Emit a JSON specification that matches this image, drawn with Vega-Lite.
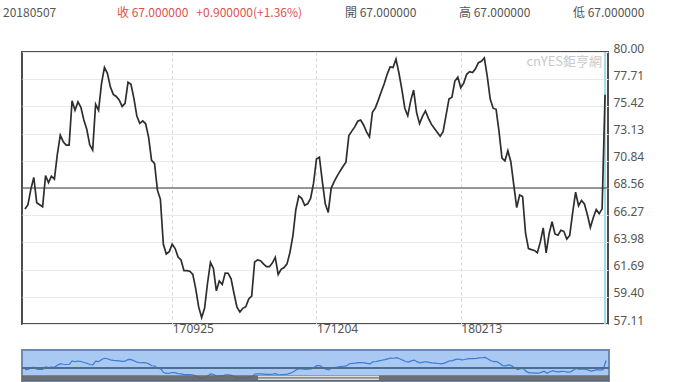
{
"$schema": "https://vega.github.io/schema/vega-lite/v6.json",
"padding": {"left": 3, "top": 0, "right": 0, "bottom": 0},
"bounds": "flush",
"spacing": 26,
"background": "white",
"config": {"axis": {"labelOverlap": false, "labelSeparation": 0}},
"datasets": {
"hd": [
{"k": "a", "t": "20180507", "c": "n"},
{"k": "b", "t": "收 67.000000\u00a0\u00a0\u00a0+0.900000(+1.36%)", "c": "r"},
{"k": "d", "t": "開 67.000000", "c": "n"},
{"k": "e", "t": "高 67.000000", "c": "n"},
{"k": "f", "t": "低 67.000000", "c": "n"}
],
"px": [
{"d":"170717","v":66.79},{"d":"170718","v":67.13},{"d":"170719","v":68.44},{"d":"170720","v":69.45},{"d":"170721","v":67.32},
{"d":"170724","v":67.15},{"d":"170725","v":66.98},{"d":"170726","v":69.6},{"d":"170727","v":69.0},{"d":"170728","v":69.55},
{"d":"170731","v":69.3},{"d":"170801","v":71.38},{"d":"170802","v":73.0},{"d":"170803","v":72.45},{"d":"170804","v":72.17},
{"d":"170807","v":72.17},{"d":"170808","v":75.9},{"d":"170809","v":75.1},{"d":"170810","v":75.8},{"d":"170811","v":75.35},
{"d":"170814","v":74.28},{"d":"170815","v":73.5},{"d":"170816","v":72.19},{"d":"170817","v":71.75},{"d":"170818","v":75.6},
{"d":"170821","v":75.1},{"d":"170822","v":77.34},{"d":"170823","v":78.7},{"d":"170824","v":78.2},{"d":"170825","v":77.07},
{"d":"170828","v":76.43},{"d":"170829","v":76.26},{"d":"170830","v":75.96},{"d":"170831","v":75.42},{"d":"170901","v":75.68},
{"d":"170904","v":77.45},{"d":"170905","v":77.28},{"d":"170906","v":76.1},{"d":"170907","v":74.61},{"d":"170908","v":74.0},
{"d":"170911","v":74.2},{"d":"170912","v":73.96},{"d":"170913","v":72.81},{"d":"170914","v":70.89},{"d":"170915","v":70.63},
{"d":"170918","v":68.37},{"d":"170919","v":67.6},{"d":"170920","v":63.82},{"d":"170921","v":63.0},{"d":"170922","v":63.2},
{"d":"170925","v":63.83},{"d":"170926","v":63.46},{"d":"170927","v":62.75},{"d":"170928","v":62.5},{"d":"170929","v":61.6},
{"d":"171002","v":61.6},{"d":"171003","v":61.55},{"d":"171004","v":61.28},{"d":"171005","v":60.07},{"d":"171006","v":58.55},
{"d":"171009","v":57.65},{"d":"171011","v":58.43},{"d":"171012","v":60.54},{"d":"171013","v":62.3},
{"d":"171016","v":61.78},{"d":"171017","v":59.9},{"d":"171018","v":60.73},{"d":"171019","v":60.44},{"d":"171020","v":61.39},
{"d":"171023","v":61.38},{"d":"171024","v":60.92},{"d":"171025","v":59.68},{"d":"171026","v":58.52},{"d":"171027","v":58.12},
{"d":"171030","v":58.43},{"d":"171031","v":58.56},{"d":"171101","v":59.22},{"d":"171102","v":59.46},{"d":"171103","v":62.33},
{"d":"171106","v":62.51},{"d":"171107","v":62.44},{"d":"171108","v":62.17},{"d":"171109","v":61.93},{"d":"171110","v":61.93},
{"d":"171113","v":62.24},{"d":"171114","v":62.71},{"d":"171115","v":61.28},{"d":"171116","v":61.71},{"d":"171117","v":61.86},
{"d":"171120","v":62.17},{"d":"171121","v":63.14},{"d":"171122","v":64.55},{"d":"171123","v":66.75},{"d":"171124","v":67.88},
{"d":"171127","v":67.68},{"d":"171128","v":67.1},{"d":"171129","v":67.22},{"d":"171130","v":67.68},{"d":"171201","v":68.94},
{"d":"171204","v":71.0},{"d":"171205","v":71.15},{"d":"171206","v":69.1},{"d":"171207","v":67.2},{"d":"171208","v":66.5},
{"d":"171211","v":68.55},{"d":"171212","v":69.09},{"d":"171213","v":69.55},{"d":"171214","v":69.97},{"d":"171215","v":70.36},
{"d":"171218","v":70.73},{"d":"171219","v":72.97},{"d":"171220","v":73.34},{"d":"171221","v":73.7},{"d":"171222","v":74.17},
{"d":"171226","v":74.28},{"d":"171227","v":73.86},{"d":"171228","v":73.28},{"d":"171229","v":72.86},
{"d":"180102","v":74.93},{"d":"180103","v":75.3},{"d":"180104","v":75.95},{"d":"180105","v":76.65},
{"d":"180108","v":77.32},{"d":"180109","v":78.12},{"d":"180110","v":78.74},{"d":"180111","v":78.7},{"d":"180112","v":79.4},
{"d":"180115","v":78.23},{"d":"180116","v":76.85},{"d":"180117","v":75.27},{"d":"180118","v":74.63},{"d":"180119","v":75.9},
{"d":"180122","v":76.8},{"d":"180123","v":74.9},{"d":"180124","v":73.97},{"d":"180125","v":74.58},{"d":"180126","v":75.04},
{"d":"180129","v":74.43},{"d":"180130","v":73.93},{"d":"180131","v":73.59},{"d":"180201","v":73.24},{"d":"180202","v":72.91},
{"d":"180205","v":73.29},{"d":"180206","v":74.67},{"d":"180207","v":76.05},{"d":"180208","v":76.19},{"d":"180209","v":77.56},
{"d":"180212","v":77.88},{"d":"180213","v":76.99},
{"d":"180221","v":77.38},{"d":"180222","v":78.12},{"d":"180223","v":78.34},
{"d":"180226","v":78.27},{"d":"180227","v":78.58},{"d":"180301","v":79.1},{"d":"180302","v":79.22},
{"d":"180305","v":79.5},{"d":"180306","v":77.95},{"d":"180307","v":76.04},{"d":"180308","v":75.27},{"d":"180309","v":75.18},
{"d":"180312","v":73.3},{"d":"180313","v":71.07},{"d":"180314","v":70.84},{"d":"180315","v":71.69},{"d":"180316","v":70.77},
{"d":"180319","v":68.81},{"d":"180320","v":66.9},{"d":"180321","v":67.96},{"d":"180322","v":67.84},{"d":"180323","v":64.75},
{"d":"180326","v":63.46},{"d":"180327","v":63.37},{"d":"180328","v":63.3},{"d":"180329","v":63.11},{"d":"180330","v":64.0},
{"d":"180402","v":65.2},{"d":"180403","v":63.1},
{"d":"180409","v":64.71},{"d":"180410","v":65.71},{"d":"180411","v":64.69},{"d":"180412","v":64.58},{"d":"180413","v":64.99},
{"d":"180416","v":64.91},{"d":"180417","v":64.26},{"d":"180418","v":64.56},{"d":"180419","v":66.49},{"d":"180420","v":68.2},
{"d":"180423","v":67.06},{"d":"180424","v":67.51},{"d":"180425","v":67.21},{"d":"180426","v":66.3},{"d":"180427","v":65.24},
{"d":"180430","v":66.06},{"d":"180502","v":66.75},{"d":"180503","v":66.4},{"d":"180504","v":66.8},
{"d":"180507","v":76.4}
]
},
"vconcat": [
{
"width": 570,
"height": 26,
"view": {"stroke": null, "fill": "white"},
"data": {"name": "hd"},
"mark": {"type": "text", "align": "left", "baseline": "middle", "dx": -19, "font": "Noto Sans CJK TC", "fontSize": 12},
"encoding": {
"x": {"field": "k", "type": "nominal", "scale": {"type": "point", "padding": 0, "domain": ["a", "b", "c", "d", "e", "f"]}, "axis": null},
"text": {"field": "t"},
"color": {"field": "c", "type": "nominal", "scale": {"domain": ["n", "r"], "range": ["#555555", "#d9534f"]}, "legend": null}
}
},
{
"width": 586,
"height": 272,
"view": {"stroke": "#4d4d4d", "strokeWidth": 2},
"layer": [
{
"data": {"values": [{}]},
"mark": {"type": "rule", "color": "#a3d8ec", "strokeWidth": 2},
"encoding": {"x": {"datum": "180507", "type": "ordinal"}}
},
{
"data": {"values": [{}]},
"mark": {"type": "rule", "color": "#3a3a3a", "strokeWidth": 1},
"encoding": {"y": {"datum": 68.556, "type": "quantitative"}}
},
{
"data": {"name": "px"},
"mark": {"type": "line", "color": "#2e2e2e", "strokeWidth": 1.7},
"encoding": {
"x": {"field": "d", "type": "ordinal", "scale": {"type": "point", "padding": 1},
"axis": {"values": ["170925", "171204", "180213"], "labelAlign": "left", "labelAngle": 0, "labelPadding": 4, "ticks": false, "domain": false, "grid": true, "gridDash": [3, 3], "gridColor": "#d4d4d4", "labelColor": "#555555", "labelFontSize": 12, "labelFont": "Noto Sans", "title": null}},
"y": {"field": "v", "type": "quantitative", "scale": {"domain": [57.11, 80], "zero": false, "nice": false},
"axis": {"orient": "right", "values": [57.11, 59.4, 61.69, 63.98, 66.27, 68.556, 70.844, 73.133, 75.422, 77.711, 80], "tickCount": 20, "format": ".2f", "ticks": false, "domain": false, "grid": true, "gridColor": "#e9e9e9", "labelBaseline": "alphabetic", "labelPadding": 5, "labelColor": "#555555", "labelFontSize": 12, "labelFont": "Noto Sans", "labelFlush": false, "labelOverlap": false, "title": null}}
}
},
{
"data": {"values": [{}]},
"mark": {"type": "text", "text": "cnYES鉅亨網", "align": "right", "baseline": "top", "dx": -3, "dy": 4, "color": "#c9c9c9", "fontSize": 13, "font": "Noto Sans CJK TC"},
"encoding": {"x": {"datum": "180507", "type": "ordinal"}, "y": {"datum": 80, "type": "quantitative"}}
}
]
},
{
"width": 587,
"height": 31,
"view": {"fill": "#a9c9f2", "stroke": "#6b8bb3", "strokeWidth": 2},
"layer": [
{
"data": {"name": "px"},
"mark": {"type": "line", "color": "#3b7bd4", "strokeWidth": 1.2},
"encoding": {
"x": {"field": "d", "type": "ordinal", "scale": {"type": "point", "padding": 1}, "axis": null},
"y": {"field": "v", "type": "quantitative", "scale": {"domain": [55, 87.3], "zero": false, "nice": false}, "axis": null}
}
},
{
"data": {"values": [{}]},
"mark": {"type": "rule", "color": "#4e6d93", "strokeWidth": 2},
"encoding": {"y": {"datum": 68.56, "type": "quantitative"}}
},
{
"data": {"values": [{}]},
"mark": {"type": "rect", "color": "#626262", "opacity": 0.88},
"encoding": {"y": {"datum": 61.0, "type": "quantitative"}, "y2": {"datum": 55}}
},
{
"data": {"values": [{}]},
"mark": {"type": "rule", "color": "#dedede", "strokeWidth": 1.5},
"encoding": {"x": {"datum": "171106", "type": "ordinal"}, "x2": {"datum": "180104"}, "y": {"datum": 59.8, "type": "quantitative"}}
},
{
"data": {"values": [{}]},
"mark": {"type": "rule", "color": "#dedede", "strokeWidth": 1.5},
"encoding": {"x": {"datum": "171106", "type": "ordinal"}, "x2": {"datum": "180104"}, "y": {"datum": 56.7, "type": "quantitative"}}
}
]
}
]
}
